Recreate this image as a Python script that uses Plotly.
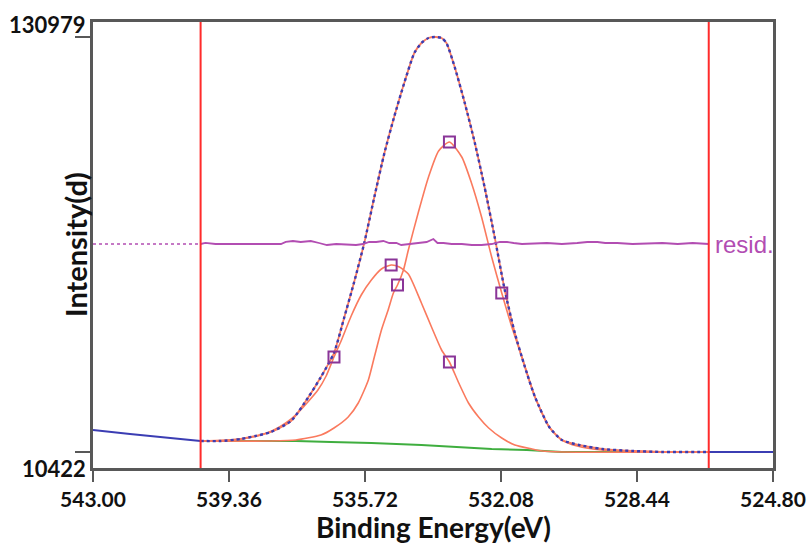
import numpy as np
import plotly.graph_objects as go

# ---------------- data ----------------
region_limits = [540.12, 526.52]          # fitting region (red vertical lines)

data_energy = [543.00, 542.54, 542.01, 541.20, 540.39, 540.12, 539.59, 539.05, 538.65, 538.24,
               537.70, 537.25, 536.90, 536.55, 536.28, 536.01, 535.74, 535.47, 535.20, 534.94,
               534.67, 534.40, 534.21, 534.02, 533.86, 533.67, 533.54, 533.32, 533.05, 532.78,
               532.52, 532.25, 531.98, 531.71, 531.44, 531.17, 530.79, 530.45, 529.99, 529.37,
               528.56, 527.76, 526.68, 526.52, 525.88, 524.80]
data_counts = [16812, 16231, 15650, 14779, 13907, 13617, 13617, 14198, 15069, 16231,
               19427, 26108, 32209, 39181, 49349, 59807, 71136, 84499, 97281, 107739,
               117616, 126331, 129236, 130689, 130979, 130689, 129236, 122264, 111806, 100186,
               87404, 72879, 57483, 44991, 35114, 26399, 17684, 13907, 12455, 11293,
               10712, 10422, 10422, 10422, 10422, 10422]

comp1_energy = [540.12, 538.24, 537.57, 536.90, 536.55, 536.17, 535.90, 535.63, 535.47, 535.28,
                535.10, 534.96, 534.85, 534.69, 534.56, 534.29, 534.02, 533.75, 533.46, 533.13,
                532.87, 532.60, 532.33, 532.06, 531.79, 531.52, 531.17, 530.79, 530.45, 530.04,
                529.37, 528.56, 527.76, 526.52]
comp1_counts = [13617, 13617, 13907, 15360, 17394, 20589, 24656, 31338, 38019, 45863,
                51673, 56611, 58935, 63293, 69103, 80142, 90309, 97862, 100477, 96119,
                88566, 78689, 67069, 56611, 46734, 38019, 26399, 17684, 13907, 12165,
                11003, 10712, 10422, 10422]

comp2_energy = [540.12, 539.05, 538.51, 538.16, 537.84, 537.52, 537.25, 536.98, 536.76, 536.55,
                536.36, 536.09, 535.82, 535.55, 535.28, 535.02, 534.80, 534.56, 534.21, 533.94,
                533.67, 533.46, 533.21, 532.95, 532.68, 532.41, 532.06, 531.71, 531.25, 530.98,
                530.45, 526.52]
comp2_counts = [13617, 14198, 15360, 16812, 18846, 21751, 24946, 28433, 32500, 38019,
                42667, 49930, 56030, 60388, 63583, 64745, 64164, 62131, 53706, 46734,
                40053, 36566, 30466, 24656, 20589, 17394, 14489, 12455, 11293, 10712,
                10422, 10422]

bg_energy = [540.12, 537.57, 536.63, 535.55, 534.21, 533.40, 532.33, 531.39, 530.98, 530.45, 526.52]
bg_counts = [13617, 13617, 13327, 13036, 12455, 11874, 11293, 11003, 10712, 10422, 10422]

# component markers: (left half, peak, right half)
mark1_energy = [534.85, 533.46, 532.06]
mark1_counts = [58935, 100477, 56611]
mark2_energy = [536.55, 535.02, 533.46]
mark2_counts = [38019, 64745, 36566]

resid_offset = 70846
resid_left_energy = [543.00, 540.12]
resid_left_values = [0, 0]
resid_energy = [540.12, 539.99, 539.72, 538.78, 537.97, 537.84, 537.65, 537.44, 537.17, 536.95,
                536.74, 536.49, 535.96, 535.77, 535.61, 535.42, 535.23, 535.07, 534.88, 534.75,
                534.48, 534.26, 534.07, 533.89, 533.78, 533.62, 533.40, 533.13, 532.86, 532.60,
                532.33, 532.11, 531.92, 531.74, 531.52, 530.85, 530.45, 530.04, 529.77, 529.50,
                529.29, 528.97, 528.56, 527.76, 527.35, 526.95, 526.52]
resid_values = [0, 300, 0, 0, 0, 600, 870, 580, 870, 290,
                -290, 0, -290, 0, 580, 580, 870, 290, 290, -290,
                0, 290, 580, 1450, 290, 290, 0, 0, -290, -290,
                0, 580, 580, 290, 0, 290, 0, 290, 580, 580,
                290, 290, 0, 290, 0, 290, 0]

x_ticks = [543.00, 539.36, 535.72, 532.08, 528.44, 524.80]
y_ticks = [10422, 130979]
x_range = [543.00, 524.80]
y_range = [5774, 135337]

# ---------------- styles ----------------
BLUE = "#3b3db3"
ORANGE = "#fa7a5e"
RED = "#ff2b2b"
GREEN = "#3fae3f"
PURPLE = "#b24db2"
MARK = "#8a3598"
AXIS = "#585858"
FONT = "Lato"

fig = go.Figure()

E = np.array(data_energy)
C = np.array(data_counts)
hi, lo = region_limits
left = E >= hi
right = E <= lo
inside = (E <= hi) & (E >= lo)

# background
fig.add_trace(go.Scatter(x=bg_energy, y=bg_counts, mode="lines",
                         line=dict(color=GREEN, width=2), hoverinfo="skip"))
# components
fig.add_trace(go.Scatter(x=comp1_energy, y=comp1_counts, mode="lines",
                         line=dict(color=ORANGE, width=1.6, shape="spline", smoothing=0.6)))
fig.add_trace(go.Scatter(x=comp2_energy, y=comp2_counts, mode="lines",
                         line=dict(color=ORANGE, width=1.6, shape="spline", smoothing=0.6)))
# envelope
fig.add_trace(go.Scatter(x=E[inside], y=C[inside], mode="lines",
                         line=dict(color=ORANGE, width=1.8, shape="spline", smoothing=0.6)))
# raw data
fig.add_trace(go.Scatter(x=E[left], y=C[left], mode="lines",
                         line=dict(color=BLUE, width=2)))
fig.add_trace(go.Scatter(x=E[right], y=C[right], mode="lines",
                         line=dict(color=BLUE, width=2)))
fig.add_trace(go.Scatter(x=E[inside], y=C[inside], mode="lines",
                         line=dict(color=BLUE, width=2.4, dash="dot", shape="spline", smoothing=0.6)))

# residual
fig.add_trace(go.Scatter(x=resid_left_energy, y=np.array(resid_left_values) + resid_offset,
                         mode="lines", line=dict(color=PURPLE, width=1.5, dash="dot")))
fig.add_trace(go.Scatter(x=resid_energy, y=np.array(resid_values) + resid_offset,
                         mode="lines", line=dict(color=PURPLE, width=1.8)))

# markers
for me, mc in ((mark1_energy, mark1_counts), (mark2_energy, mark2_counts)):
    fig.add_trace(go.Scatter(x=me, y=mc, mode="markers",
                             marker=dict(symbol="square-open", size=11, color=MARK,
                                         line=dict(width=2, color=MARK))))

# region lines
for xv in region_limits:
    fig.add_vline(x=xv, line=dict(color=RED, width=2))

# resid label
fig.add_annotation(x=region_limits[1], y=resid_offset, text="resid.", showarrow=False,
                   xanchor="left", yanchor="middle", xshift=4,
                   font=dict(family="Liberation Sans, Arial", size=24, color=PURPLE))

# y tick labels (offset from ticks as in the reference)
for val, ysh in zip(y_ticks, (-16, 13)):
    fig.add_annotation(x=0, xref="paper", y=val, yref="y", text=f"<b>{val}</b>",
                       showarrow=False, xanchor="right", yanchor="middle",
                       xshift=-5, yshift=ysh,
                       font=dict(family=FONT, size=22, color="#111"))

# axis titles
fig.add_annotation(x=0, xref="paper", y=0.5, yref="paper", text="<b>Intensity(d)</b>",
                   textangle=-90, showarrow=False, xanchor="center", yanchor="middle",
                   xshift=-18, font=dict(family=FONT, size=29, color="#111"))
fig.add_annotation(x=0.5, xref="paper", y=0, yref="paper", text="<b>Binding Energy(eV)</b>",
                   showarrow=False, xanchor="center", yanchor="top",
                   yshift=-40, font=dict(family=FONT, size=28, color="#111"))

fig.update_layout(
    width=810, height=543,
    margin=dict(l=93, r=37, t=22, b=75),
    paper_bgcolor="white", plot_bgcolor="white",
    showlegend=False,
    xaxis=dict(range=x_range, tickvals=x_ticks, ticktext=[f"<b>{v:.2f}</b>" for v in x_ticks],
               ticks="outside", ticklen=11, tickwidth=2, tickcolor=AXIS,
               showline=True, linecolor=AXIS, linewidth=2.5, mirror=True,
               showgrid=False, zeroline=False, automargin=False,
               tickfont=dict(family=FONT, size=21, color="#111")),
    yaxis=dict(range=y_range, tickvals=y_ticks, showticklabels=False,
               ticks="outside", ticklen=15, tickwidth=2, tickcolor=AXIS,
               showline=True, linecolor=AXIS, linewidth=2.5, mirror=True,
               showgrid=False, zeroline=False, automargin=False),
)

fig.write_html("out.html")
